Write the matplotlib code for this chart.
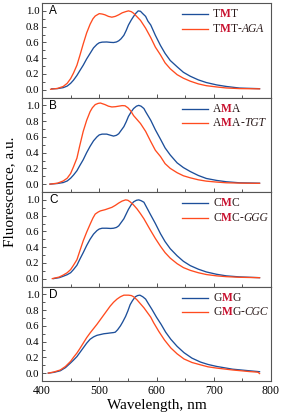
import matplotlib
matplotlib.use("Agg")
import matplotlib.pyplot as plt
from matplotlib.ticker import MultipleLocator

# ---------------- data ----------------
panel_letters = ["A", "B", "C", "D"]
legend_base = ["TMT", "AMA", "CMC", "GMG"]
legend_suffix = ["AGA", "TGT", "GGG", "CGC"]

wl_A_blue = [417, 427, 437, 444, 450, 455, 461, 466, 472, 478, 484, 490, 496, 500, 505, 513, 520, 525, 530, 534, 538, 543, 547, 551, 556, 560, 564, 568, 572, 576, 581, 585, 590, 598, 607, 615, 624, 636, 647, 659, 673, 687, 705, 722, 745, 780]
fl_A_blue = [0.01, 0.013, 0.025, 0.045, 0.08, 0.12, 0.18, 0.24, 0.31, 0.39, 0.46, 0.53, 0.575, 0.595, 0.603, 0.605, 0.60, 0.598, 0.605, 0.62, 0.645, 0.69, 0.75, 0.82, 0.885, 0.93, 0.97, 1.0, 0.995, 0.965, 0.93, 0.87, 0.82, 0.69, 0.56, 0.46, 0.37, 0.29, 0.22, 0.17, 0.124, 0.09, 0.06, 0.04, 0.02, 0.012]
wl_A_red = [415, 427, 437, 444, 450, 455, 461, 466, 472, 478, 484, 489, 493, 500, 505, 510, 516, 522, 528, 534, 540, 546, 551, 556, 560, 566, 572, 581, 590, 598, 607, 615, 624, 636, 647, 659, 673, 687, 705, 722, 745, 780]
fl_A_red = [0.005, 0.015, 0.04, 0.08, 0.14, 0.21, 0.31, 0.43, 0.58, 0.72, 0.83, 0.90, 0.935, 0.965, 0.96, 0.95, 0.93, 0.92, 0.93, 0.95, 0.975, 0.99, 1.0, 0.99, 0.97, 0.925, 0.88, 0.78, 0.66, 0.54, 0.44, 0.34, 0.265, 0.19, 0.145, 0.107, 0.073, 0.05, 0.034, 0.021, 0.013, 0.01]

wl_B_blue = [414, 427, 437, 444, 450, 455, 461, 466, 472, 478, 484, 490, 496, 500, 505, 513, 520, 525, 530, 534, 538, 543, 547, 551, 556, 560, 565, 569, 573, 578, 581, 590, 598, 607, 615, 624, 636, 647, 659, 673, 687, 705, 722, 745, 780]
fl_B_blue = [0.0, 0.008, 0.02, 0.04, 0.075, 0.115, 0.17, 0.235, 0.31, 0.40, 0.48, 0.55, 0.60, 0.625, 0.635, 0.635, 0.62, 0.61, 0.62, 0.64, 0.68, 0.73, 0.79, 0.86, 0.92, 0.96, 0.99, 1.0, 0.99, 0.96, 0.92, 0.81, 0.69, 0.57, 0.46, 0.37, 0.27, 0.21, 0.16, 0.11, 0.072, 0.047, 0.03, 0.017, 0.012]
wl_B_red = [414, 427, 437, 444, 450, 455, 461, 466, 472, 478, 484, 488, 493, 498, 502, 506, 510, 516, 522, 528, 534, 540, 545, 550, 555, 560, 566, 572, 581, 590, 598, 607, 615, 624, 636, 647, 659, 673, 687, 705, 722, 745, 780]
fl_B_red = [0.0, 0.012, 0.04, 0.075, 0.135, 0.22, 0.33, 0.49, 0.67, 0.81, 0.92, 0.97, 1.01, 1.025, 1.03, 1.02, 1.01, 0.99, 0.98, 0.983, 0.99, 0.997, 0.995, 0.97, 0.93, 0.87, 0.82, 0.77, 0.67, 0.54, 0.43, 0.35, 0.26, 0.20, 0.145, 0.106, 0.08, 0.055, 0.038, 0.026, 0.017, 0.013, 0.01]

wl_C_blue = [420, 430, 437, 444, 450, 455, 461, 466, 472, 478, 484, 490, 496, 500, 505, 513, 520, 525, 530, 534, 538, 543, 547, 551, 556, 560, 565, 569, 573, 578, 589, 598, 607, 615, 624, 636, 647, 659, 673, 687, 705, 722, 745, 780]
fl_C_blue = [0.0, 0.012, 0.03, 0.05, 0.075, 0.115, 0.17, 0.245, 0.33, 0.42, 0.50, 0.565, 0.61, 0.63, 0.64, 0.64, 0.637, 0.64, 0.65, 0.67, 0.71, 0.76, 0.82, 0.88, 0.94, 0.975, 0.995, 1.0, 0.99, 0.97, 0.82, 0.70, 0.57, 0.47, 0.38, 0.29, 0.22, 0.165, 0.12, 0.085, 0.055, 0.035, 0.022, 0.012]
wl_C_red = [418, 430, 437, 444, 450, 455, 461, 466, 472, 478, 484, 489, 493, 498, 502, 510, 516, 522, 528, 534, 540, 546, 550, 554, 560, 566, 572, 578, 589, 598, 607, 615, 624, 636, 647, 659, 673, 687, 705, 722, 745, 780]
fl_C_red = [0.0, 0.02, 0.045, 0.075, 0.115, 0.17, 0.24, 0.35, 0.48, 0.59, 0.69, 0.77, 0.82, 0.845, 0.86, 0.875, 0.89, 0.905, 0.93, 0.96, 0.985, 1.0, 0.995, 0.975, 0.935, 0.885, 0.825, 0.76, 0.62, 0.51, 0.41, 0.33, 0.26, 0.19, 0.14, 0.105, 0.075, 0.052, 0.035, 0.025, 0.017, 0.012]

wl_D_blue = [411, 421, 432, 441, 450, 455, 461, 466, 472, 478, 484, 490, 496, 502, 508, 514, 519, 525, 528, 532, 537, 541, 546, 550, 554, 558, 563, 567, 571, 576, 581, 586, 592, 600, 608, 616, 625, 636, 648, 662, 677, 690, 705, 733, 762, 780]
fl_D_blue = [0.0, 0.01, 0.03, 0.07, 0.13, 0.165, 0.21, 0.26, 0.32, 0.38, 0.43, 0.46, 0.48, 0.49, 0.50, 0.505, 0.51, 0.515, 0.52, 0.55, 0.60, 0.65, 0.72, 0.79, 0.87, 0.92, 0.97, 0.985, 0.99, 0.97, 0.94, 0.88, 0.81, 0.71, 0.62, 0.52, 0.43, 0.34, 0.26, 0.19, 0.14, 0.11, 0.085, 0.05, 0.03, 0.018]
wl_D_red = [411, 421, 432, 441, 450, 455, 461, 466, 472, 478, 484, 490, 496, 502, 508, 514, 519, 525, 531, 537, 543, 551, 556, 560, 566, 572, 578, 584, 590, 595, 604, 614, 625, 636, 648, 662, 677, 690, 705, 733, 762, 777, 780]
fl_D_red = [0.0, 0.015, 0.04, 0.085, 0.15, 0.20, 0.255, 0.31, 0.38, 0.45, 0.51, 0.565, 0.62, 0.68, 0.74, 0.80, 0.85, 0.90, 0.94, 0.97, 0.99, 0.99, 0.985, 0.97, 0.93, 0.88, 0.83, 0.77, 0.71, 0.64, 0.53, 0.42, 0.32, 0.245, 0.18, 0.135, 0.105, 0.08, 0.064, 0.04, 0.02, 0.012, -0.005]

blue_series = [(wl_A_blue, fl_A_blue), (wl_B_blue, fl_B_blue), (wl_C_blue, fl_C_blue), (wl_D_blue, fl_D_blue)]
red_series = [(wl_A_red, fl_A_red), (wl_B_red, fl_B_red), (wl_C_red, fl_C_red), (wl_D_red, fl_D_red)]

x_ticks = [400, 500, 600, 700, 800]
y_ticks = [0.0, 0.2, 0.4, 0.6, 0.8, 1.0]

# ---------------- style ----------------
BLUE = "#1d4f9a"
RED = "#ff4b1f"
MRED = "#c8102e"
TXT = "#2a1a1a"
SPINE = "#555555"
SERIF = ["Liberation Serif", "DejaVu Serif"]
SANS = ["Liberation Sans", "DejaVu Sans"]

plt.rcParams["font.family"] = SERIF

W, H = 281, 416
fig = plt.figure(figsize=(W / 100, H / 100), dpi=100)

left = 42 / W
width = 229 / W
top_px = 3
ph = 94.5

def rainbow(ax, x, y, pieces, size):
    t = ax.text(x, y, pieces[0][0], transform=ax.transAxes, fontsize=size,
                color=pieces[0][1], fontweight=pieces[0][2], fontstyle=pieces[0][3],
                va="center", ha="left", family=SERIF)
    prev = t
    for s, c, w, st in pieces[1:]:
        prev = ax.annotate(s, xy=(1, 0), xycoords=prev, fontsize=size, color=c,
                           fontweight=w, fontstyle=st, va="bottom", ha="left",
                           family=SERIF)

for i in range(4):
    bottom_px = top_px + ph * (i + 1)
    ax = fig.add_axes([left, 1 - bottom_px / H, width, ph / H])
    wb, fb = blue_series[i]
    wr, fr = red_series[i]
    ax.plot(wb, fb, color=BLUE, lw=0.95, solid_joinstyle="round")
    ax.plot(wr, fr, color=RED, lw=0.95, solid_joinstyle="round")
    ax.set_xlim(400, 800)
    ax.set_ylim(-0.1, 1.1)
    ax.set_xticks(x_ticks)
    ax.xaxis.set_minor_locator(MultipleLocator(50))
    ax.set_yticks(y_ticks)
    ax.set_yticklabels([f"{v:.1f}" for v in y_ticks])
    ax.yaxis.set_minor_locator(MultipleLocator(0.1))
    ax.tick_params(which="both", direction="in", top=False, right=False,
                   color=SPINE, width=0.7, labelsize=7.8, pad=2)
    ax.tick_params(which="major", length=3.2)
    ax.tick_params(which="minor", length=2.2)
    for sp in ax.spines.values():
        sp.set_color(SPINE)
        sp.set_linewidth(0.8)
    if i < 3:
        ax.tick_params(axis="x", labelbottom=False)
    else:
        ax.tick_params(axis="x", labelsize=8.5, pad=3)
        ax.set_xlabel("Wavelength, nm", fontsize=11, labelpad=1)
    ax.text(0.032, 0.975, panel_letters[i], transform=ax.transAxes, fontsize=8.5,
            va="top", ha="left", family=SANS)
    # legend
    for j, (col, yy) in enumerate([(BLUE, 0.88), (RED, 0.725)]):
        ax.plot([0.611, 0.725], [yy, yy], color=col, lw=0.95, transform=ax.transAxes)
        b = legend_base[i]
        pieces = [(b[0], TXT, "normal", "normal"),
                  (b[1], MRED, "bold", "normal"),
                  (b[2], TXT, "normal", "normal")]
        if j == 1:
            pieces += [("-", TXT, "normal", "normal"),
                       (legend_suffix[i], TXT, "normal", "italic")]
        rainbow(ax, 0.747, yy, pieces, 8.3)

fig.text(0.035, 1 - (top_px + 2 * ph) / H, "Fluorescence, a.u.", rotation=90,
         fontsize=11, va="center", ha="center")

fig.savefig("out.png", dpi=100)
